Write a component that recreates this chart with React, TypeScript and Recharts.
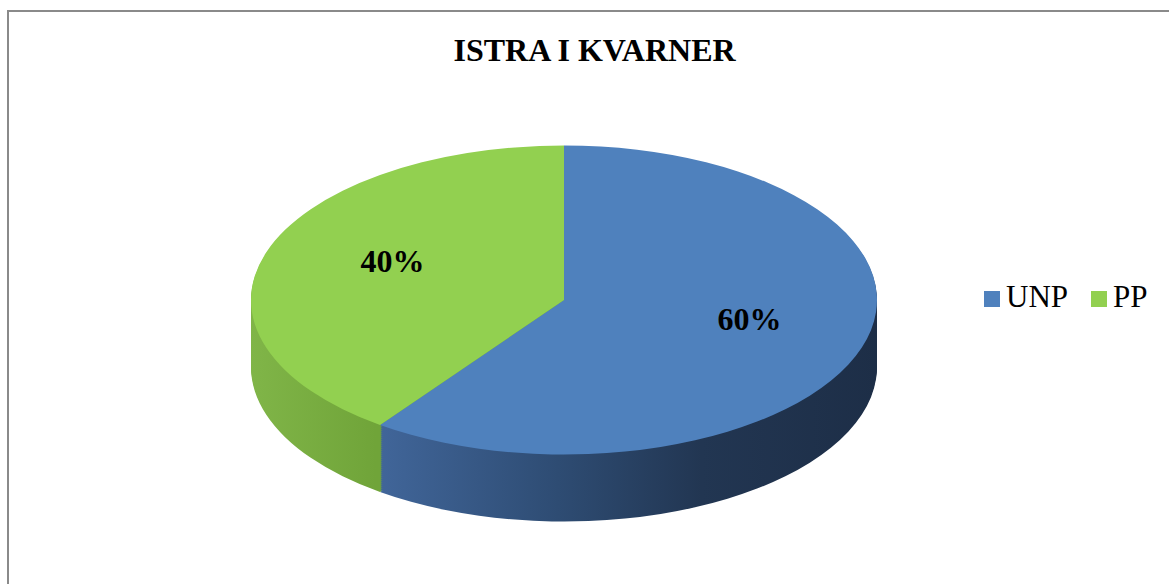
import React from 'react';
import { PieChart, Pie, Cell, Legend } from 'recharts';

const categories = ['UNP', 'PP'];
const values = [60, 40];
const valueLabels = ['60%', '40%'];
const topColors = ['#4f81bd', '#92d050'];
const sideFills = ['url(#sideBlue)', 'url(#sideGreen)'];
const chartTitle = 'ISTRA I KVARNER';

const data = categories.map((name, i) => ({ name, value: values[i] }));

const W = 1169;
const H = 584;
const MARGIN = 5;
const CX = 564;
const CY = 300;
const R = 313;
const RY = 154.5;
const S = RY / R;
const DEPTH = 67;
const LABEL_DX = 7;
const LABEL_DY = -10;
const layerOffsets: number[] = [];
for (let d = DEPTH; d >= 1; d -= 2) layerOffsets.push(d);

const SERIF = "'Liberation Serif', 'Times New Roman', serif";
const RAD = Math.PI / 180;

const renderLabel = (props: any) => {
  const { midAngle, outerRadius, index } = props;
  const r = outerRadius * 0.6;
  const x = CX + r * Math.cos(-midAngle * RAD) + LABEL_DX;
  const y = CY + r * Math.sin(-midAngle * RAD) * S + LABEL_DY;
  return (
    <text
      key={`lbl-${index}`}
      x={x}
      y={y}
      textAnchor="middle"
      dominantBaseline="central"
      fontFamily={SERIF}
      fontWeight="bold"
      fontSize={32}
      fill="#000"
    >
      {valueLabels[index]}
    </text>
  );
};

const renderLegend = () => (
  <div style={{ fontFamily: SERIF, fontSize: 31, lineHeight: '36px', whiteSpace: 'nowrap', color: '#000' }}>
    {categories.map((c, i) => (
      <span key={c}>
        <span style={{ display: 'inline-block', width: 16, height: 16, background: topColors[i], marginRight: 6 }} />
        {c}
        {i < categories.length - 1 && <span style={{ display: 'inline-block', width: 23 }} />}
      </span>
    ))}
  </div>
);

export default function App() {
  return (
    <div style={{ position: 'relative', width: W, height: H, overflow: 'hidden', background: '#fff' }}>
      <style>{`
        body { margin: 0; }
        .pie3d .recharts-sector { transform-origin: ${CX}px ${CY}px; transform: scaleY(${S}); }
      `}</style>
      <div
        style={{
          position: 'absolute',
          left: 7,
          top: 10,
          width: 1300,
          height: 700,
          borderLeft: '2px solid #8a8a8a',
          borderTop: '2px solid #8a8a8a',
        }}
      />
      <div
        style={{
          position: 'absolute',
          left: 0,
          top: 32,
          width: 1189,
          textAlign: 'center',
          fontFamily: SERIF,
          fontWeight: 'bold',
          fontSize: 32,
          lineHeight: '36px',
          color: '#000',
        }}
      >
        {chartTitle}
      </div>
      <div className="pie3d" style={{ position: 'absolute', left: 0, top: 0 }}>
        <PieChart width={W} height={H}>
          <defs>
            <linearGradient id="sideBlue" gradientUnits="userSpaceOnUse" x1={CX - R} y1={0} x2={CX + R} y2={0}>
              <stop offset="0.2" stopColor="#41669a" />
              <stop offset="0.49" stopColor="#2e4c73" />
              <stop offset="0.72" stopColor="#223652" />
              <stop offset="1" stopColor="#1d2e47" />
            </linearGradient>
            <linearGradient id="sideGreen" gradientUnits="userSpaceOnUse" x1={CX - R} y1={0} x2={CX + R} y2={0}>
              <stop offset="0" stopColor="#80b548" />
              <stop offset="0.2" stopColor="#70a439" />
            </linearGradient>
          </defs>
          {layerOffsets.map((d) => (
            <Pie
              key={`layer-${d}`}
              data={data}
              dataKey="value"
              nameKey="name"
              cx={CX - MARGIN}
              cy={CY - MARGIN + d / S}
              outerRadius={R}
              startAngle={90}
              endAngle={-270}
              stroke="none"
              legendType="none"
              isAnimationActive={false}
            >
              {data.map((e, i) => (
                <Cell key={e.name} fill={sideFills[i]} stroke="none" />
              ))}
            </Pie>
          ))}
          <Pie
            data={data}
            dataKey="value"
            nameKey="name"
            cx={CX - MARGIN}
            cy={CY - MARGIN}
            outerRadius={R}
            startAngle={90}
            endAngle={-270}
            stroke="none"
            label={renderLabel}
            labelLine={false}
            isAnimationActive={false}
          >
            {data.map((e, i) => (
              <Cell key={e.name} fill={topColors[i]} stroke="none" />
            ))}
          </Pie>
          <Legend
            content={renderLegend}
            wrapperStyle={{ position: 'absolute', left: 984, top: 279, width: 185 }}
          />
        </PieChart>
      </div>
    </div>
  );
}
